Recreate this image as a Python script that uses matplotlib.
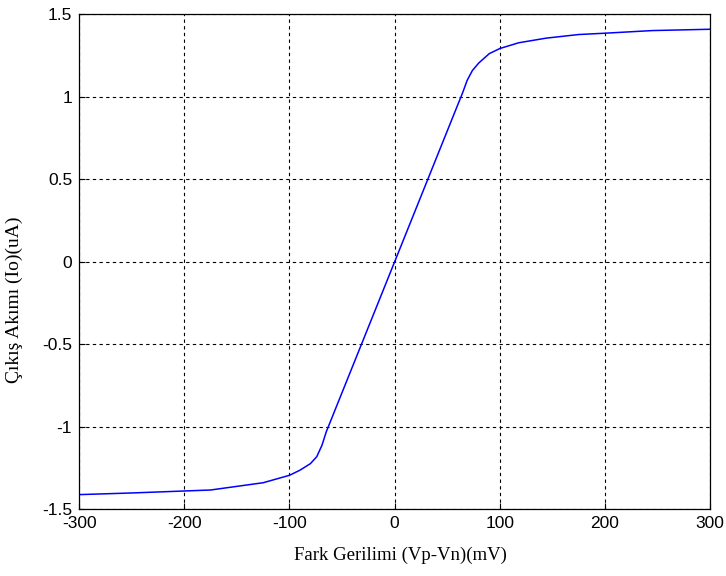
import numpy as np
import matplotlib.pyplot as plt

# values
vdiff = [-300, -250, -200, -175, -150, -125, -100, -90, -80, -74, -69, -65,
         0, 65, 69, 74, 80, 90, 100, 118, 144, 175, 200, 245, 300]
iout = [-1.41, -1.40, -1.388, -1.382, -1.36, -1.338, -1.293, -1.262, -1.222, -1.18, -1.11, -1.03,
        0.0, 1.03, 1.10, 1.16, 1.205, 1.262, 1.293, 1.328, 1.356, 1.378, 1.386, 1.402, 1.41]
xticks = [-300, -200, -100, 0, 100, 200, 300]
yticks = [-1.5, -1, -0.5, 0, 0.5, 1, 1.5]
yticklabels = ['-1.5', '-1', '-0.5', '0', '0.5', '1', '1.5']

W, H = 726, 576
fig = plt.figure(figsize=(W / 100, H / 100), dpi=100)
ax = fig.add_axes([0.109, 0.1155, 0.869, 0.8595])

ax.plot(vdiff, iout, color=(0, 0, 1), lw=1.1)

ax.set_xlim(-300, 300)
ax.set_ylim(-1.5, 1.5)
ax.set_xticks(xticks)
ax.set_xticklabels([str(t) for t in xticks])
ax.set_yticks(yticks)
ax.set_yticklabels(yticklabels)
ax.grid(True, color='black', linestyle=(0, (3, 3)), linewidth=0.8)
ax.tick_params(direction='in', length=4, labelsize=12.5, width=0.8)
ax.tick_params(axis='x', pad=4.5)
ax.tick_params(axis='y', pad=5)
for lab in ax.get_xticklabels() + ax.get_yticklabels():
    lab.set_family('Liberation Sans')
for sp in ax.spines.values():
    sp.set_linewidth(0.9)

# axis labels placed where the reference has them
fig.text(400 / W, 1 - 555 / H, 'Fark Gerilimi (Vp-Vn)(mV)', family='Liberation Serif',
         fontsize=13.5, ha='center', va='center')
fig.text(14 / W, 1 - 300 / H, 'Çıkış Akımı (Io)(uA)', family='Liberation Serif',
         fontsize=14, ha='center', va='center', rotation=90)

fig.savefig('out.png', dpi=100)
